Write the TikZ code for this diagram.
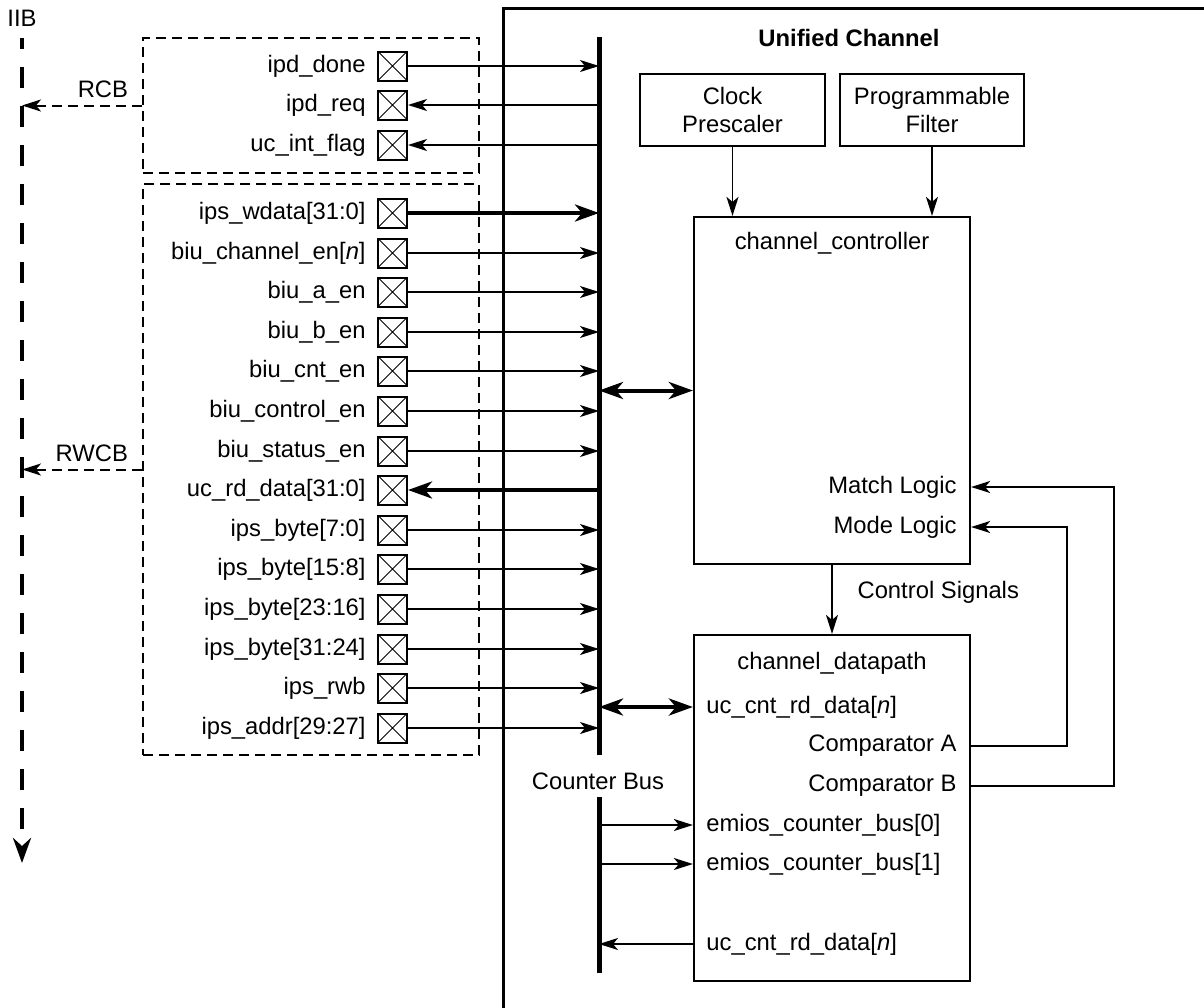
\documentclass[tikz,border=0pt]{standalone}
\usepackage{fontspec}
\setmainfont{Liberation Sans}
\usetikzlibrary{arrows.meta, positioning}

\begin{document}
\begin{tikzpicture}[
  x=0.5pt, y=-0.5pt,
  font=\fontsize{11.9}{13.6}\selectfont,
  thintip/.tip={Stealth[length=9.5pt, width=6pt, inset=2.5pt]},
  widetip/.tip={Stealth[length=12pt, width=8.5pt, inset=3.5pt]},
  blk/.style={draw, line width=1.1pt, align=center, inner sep=0pt},
  pad/.style={draw, line width=1pt, minimum size=14.5pt, inner sep=0pt,
              path picture={\draw[line width=0.5pt]
                (path picture bounding box.south west) -- (path picture bounding box.north east)
                (path picture bounding box.north west) -- (path picture bounding box.south east);}},
  lbl/.style={anchor=east, inner sep=0pt},
  inlbl/.style={anchor=west, inner sep=0pt},
  grp/.style={draw, line width=1pt, dash pattern=on 5pt off 3pt, inner sep=0pt},
  sig/.style={line width=0.9pt, -thintip},
  tobus/.style={line width=0.9pt, -thintip},
  frombus/.style={line width=0.9pt, thintip-},
  tobusw/.style={line width=2pt, -widetip},
  frombusw/.style={line width=2pt, widetip-},
  both/.style={line width=2pt, widetip-widetip},
  bus/.style={line width=2.5pt},
  cbarr/.style={line width=1pt, dash pattern=on 5pt off 3pt, -thintip},
  iib/.style={line width=2.2pt, dash pattern=on 10.5pt off 9pt, dash phase=5pt,
              -{Stealth[length=12.5pt, width=9pt, inset=4pt]}}
]
\useasboundingbox (0,0) rectangle (1204,1007);

% outer block
\draw[line width=1.5pt] (503,1012) -- (503,8) -- (1210,8);
\node[font=\fontsize{11.9}{13.6}\selectfont\bfseries] (ucttl) at (849,38) {Unified Channel};

% IIB bus
\node (iibl) at (22,18) {IIB};
\coordinate (iibtop) at (22,38);
\coordinate (iibbot) at (22,863);
\draw[iib] (iibtop) -- (iibbot);

% pad groups
\node[grp, minimum width=168pt, minimum height=67.5pt] (rcb) at (311,105.5) {};
\node[grp, minimum width=168pt, minimum height=285.5pt] (rwcb) at (311,469.5) {};
\draw[cbarr] (rcb.west) -- (rcb.west -| iibtop)
  node[at start, above left, inner sep=3.5pt, xshift=-3pt] (rcbl) {RCB};
\draw[cbarr] (rwcb.west) -- (rwcb.west -| iibtop)
  node[at start, above left, inner sep=3.5pt, xshift=-3pt] (rwcbl) {RWCB};

% main bus
\coordinate (bustop) at (599,37);
\coordinate (busbot) at (599,755);

\foreach \y/\nm/\txt/\dir in {
  66/p1/ipd\_done/tobus,
  105/p2/ipd\_req/frombus,
  145/p3/uc\_int\_flag/frombus,
  213/p4/ips\_wdata[31:0]/tobusw,
  253/p5/biu\_channel\_en[\textit{n}]/tobus,
  292/p6/biu\_a\_en/tobus,
  332/p7/biu\_b\_en/tobus,
  371/p8/biu\_cnt\_en/tobus,
  411/p9/biu\_control\_en/tobus,
  451/p10/biu\_status\_en/tobus,
  490/p11/uc\_rd\_data[31:0]/frombusw,
  530/p12/ips\_byte[7:0]/tobus,
  569/p13/ips\_byte[15:8]/tobus,
  609/p14/ips\_byte[23:16]/tobus,
  649/p15/ips\_byte[31:24]/tobus,
  688/p16/ips\_rwb/tobus,
  728/p17/ips\_addr[29:27]/tobus}{
  \node[pad] (\nm) at (392.5,\y) {};
  \node[lbl] (\nm-t) at (366,\y) {\txt};
  \draw[\dir] (\nm.east) -- (\nm.east -| bustop);
}

% blocks
\node[blk, minimum width=92.5pt, minimum height=36pt] (clkpre) at (732.5,110) {Clock\\Prescaler};
\node[blk, minimum width=92pt, minimum height=36pt] (pfilt) at (932,110) {Programmable\\Filter};
\node[blk, minimum width=138pt, minimum height=173.5pt] (ctrl) at (832,390.5) {};
\node[blk, minimum width=138pt, minimum height=173pt] (dpath) at (832,808) {};

\node (ctrlt) at (832,243) {channel\_controller};
\node[lbl] (match) at (957,487) {Match Logic};
\node[lbl] (mode) at (957,527) {Mode Logic};

\node (dpatht) at (832,663) {channel\_datapath};
\node[inlbl] (cntin) at (706,707) {uc\_cnt\_rd\_data[\textit{n}]};
\node[lbl] (cmpa) at (957,746) {Comparator A};
\node[lbl] (cmpb) at (957,786) {Comparator B};
\node[inlbl] (cb0) at (706,825) {emios\_counter\_bus[0]};
\node[inlbl] (cb1) at (706,864) {emios\_counter\_bus[1]};
\node[inlbl] (cntout) at (706,944) {uc\_cnt\_rd\_data[\textit{n}]};

\draw[sig] (clkpre.south) -- (clkpre.south |- ctrl.north);
\draw[sig] (pfilt.south) -- (pfilt.south |- ctrl.north);
\draw[sig] (ctrl.south) -- (dpath.north)
  node[pos=0.4, right=9pt] (ctlsig) {Control Signals};

% feedback to controller
\draw[sig] (cmpa.east -| dpath.east) -- ++(96,0) |- (mode.east -| ctrl.east);
\draw[sig] (cmpb.east -| dpath.east) -- ++(143,0) |- (match.east -| ctrl.east);

\draw[both] (ctrl.west -| bustop) -- (ctrl.west);
\draw[both] (cntin -| bustop) -- (cntin -| dpath.west);

% counter bus
\coordinate (cbtop) at (599,797);
\coordinate (cbbot) at (599,973);
\node (cbl) at (598,781) {Counter Bus};
\draw[sig] (cb0 -| cbtop) -- (cb0 -| dpath.west);
\draw[sig] (cb1 -| cbtop) -- (cb1 -| dpath.west);
\draw[sig] (cntout -| dpath.west) -- (cntout -| cbtop);

\draw[bus] (bustop) -- (busbot);
\draw[bus] (cbtop) -- (cbbot);
\end{tikzpicture}
\end{document}
